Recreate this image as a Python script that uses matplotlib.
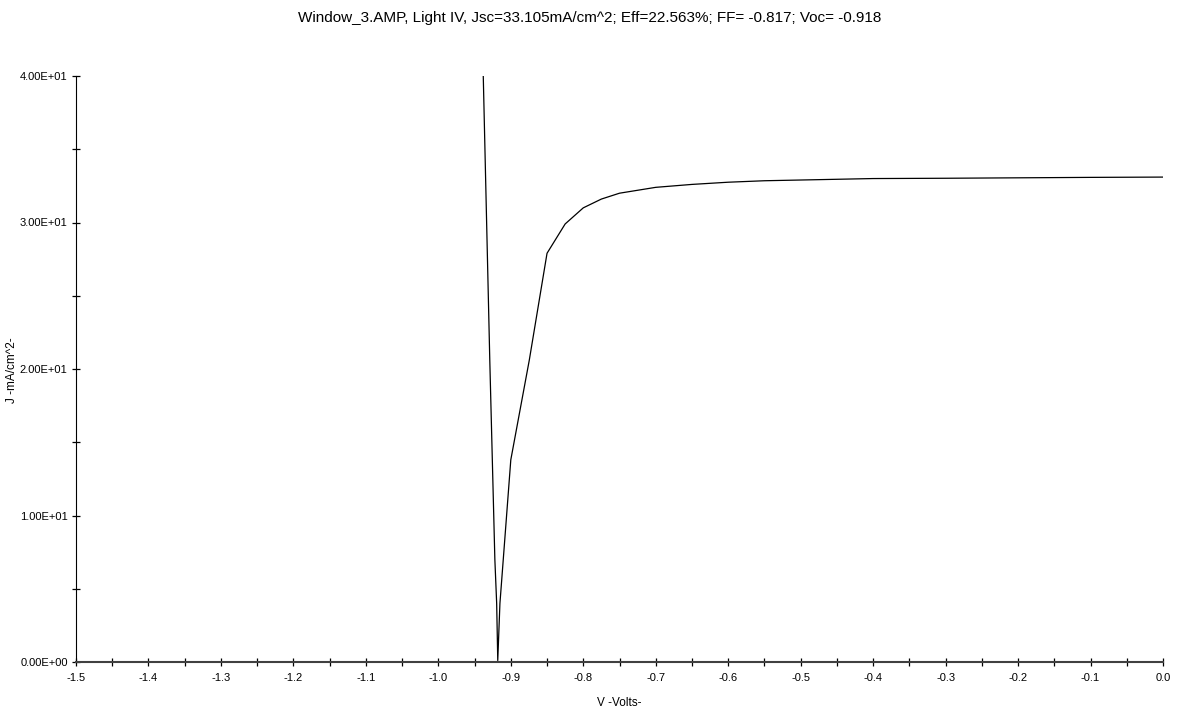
import numpy as np
import matplotlib.pyplot as plt
from matplotlib.ticker import MultipleLocator, FuncFormatter

plt.rcParams['font.family'] = ['Liberation Sans', 'DejaVu Sans']

# kurva J-V, urut dari cabang kiri ke kanan
volt = [-0.938, -0.929, -0.922, -0.9195, -0.918, -0.915, -0.9104, -0.900,
        -0.8745, -0.850, -0.825, -0.800, -0.775, -0.750, -0.725, -0.700,
        -0.650, -0.600, -0.550, -0.500, -0.400, -0.300, -0.200, -0.100, 0.0]
arus = [40.0, 20.6, 7.0, 4.0, 0.1, 4.0, 7.0, 13.8,
        20.6, 27.9, 29.9, 31.0, 31.6, 32.0, 32.2, 32.4,
        32.6, 32.75, 32.85, 32.9, 33.0, 33.02, 33.05, 33.08, 33.1]

judul = 'Window_3.AMP, Light IV, Jsc=33.105mA/cm^2; Eff=22.563%; FF= -0.817; Voc= -0.918'


def format_sci(val, pos):
    # gaya label sumbu Y: 1.00E+01 dst
    if abs(val) < 1e-9:
        return '0.00E+00'
    eksp = int(np.floor(np.log10(abs(val))))
    return f'{val / 10 ** eksp:.2f}E+{eksp:02d}'


fig = plt.figure(figsize=(11.79, 7.17), dpi=100)
ax = fig.add_axes([76 / 1179, 1 - 662 / 717, (1163 - 76) / 1179, (662 - 76) / 717])

ax.plot(volt, arus, color='black', lw=0.9)

ax.set_xlim(-1.5, 0.0)
ax.set_ylim(0, 40)
ax.xaxis.set_major_locator(MultipleLocator(0.1))
ax.xaxis.set_minor_locator(MultipleLocator(0.05))
ax.yaxis.set_major_locator(MultipleLocator(10))
ax.yaxis.set_minor_locator(MultipleLocator(5))
ax.xaxis.set_major_formatter(FuncFormatter(lambda v, p: f'{v:.1f}'))
ax.yaxis.set_major_formatter(FuncFormatter(format_sci))

for s in ['top', 'right']:
    ax.spines[s].set_visible(False)
ax.spines['left'].set_color('black')
ax.spines['bottom'].set_color('#404040')
ax.spines['bottom'].set_linewidth(1.5)

ax.tick_params(which='both', direction='inout', length=6, width=0.9, labelsize=8)
ax.tick_params(axis='x', pad=5)
ax.tick_params(axis='y', pad=3)

ax.set_xlabel('V -Volts-', fontsize=8.5, labelpad=10)
fig.text(12 / 1179, 1 - 370 / 717, 'J -mA/cm^2-', rotation=90, fontsize=8.5,
         ha='center', va='center')

fig.suptitle(judul, fontsize=11, y=0.985)

fig.savefig('out.png', dpi=100)
